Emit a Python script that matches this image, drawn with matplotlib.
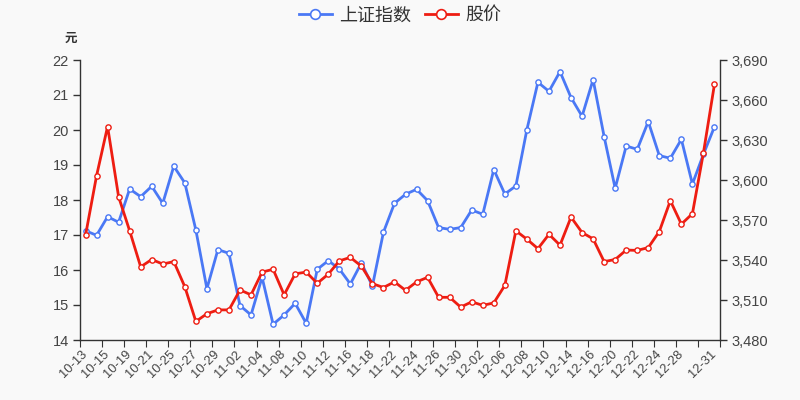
import matplotlib
matplotlib.use("Agg")
import matplotlib.pyplot as plt
from matplotlib.lines import Line2D

plt.rcParams['font.family'] = ['Liberation Sans', 'Noto Sans CJK SC', 'DejaVu Sans']

dates = ["10-13", "10-14", "10-15", "10-18", "10-19", "10-20", "10-21", "10-22", "10-25", "10-26",
         "10-27", "10-28", "10-29", "11-01", "11-02", "11-03", "11-04", "11-05", "11-08", "11-09",
         "11-10", "11-11", "11-12", "11-15", "11-16", "11-17", "11-18", "11-19", "11-22", "11-23",
         "11-24", "11-25", "11-26", "11-29", "11-30", "12-01", "12-02", "12-03", "12-06", "12-07",
         "12-08", "12-09", "12-10", "12-13", "12-14", "12-15", "12-16", "12-17", "12-20", "12-21",
         "12-22", "12-23", "12-24", "12-27", "12-28", "12-29", "12-30", "12-31"]

# 上证指数 (right axis)
index_vals = [3562, 3558.5, 3572.5, 3568.3, 3593.3, 3587.5, 3595.3, 3582.5, 3610.3, 3597.8,
              3562.5, 3518.5, 3547.8, 3545, 3505.8, 3498.8, 3527, 3491.8, 3498.8, 3507.5,
              3492.5, 3533, 3539.5, 3533.3, 3522, 3537.8, 3520.5, 3560.8, 3582.5, 3589.3,
              3593, 3584.5, 3564.3, 3563, 3564.3, 3577.5, 3574.3, 3607.8, 3589.5, 3595.5,
              3637.8, 3673.3, 3666.5, 3681.3, 3661.8, 3647.8, 3675.3, 3632.5, 3593.8, 3625.5,
              3623, 3643.8, 3618.3, 3616.3, 3630.5, 3597, 3619.3, 3640]

# 股价 (left axis, 元)
price_vals = [16.99, 18.69, 20.1, 18.09, 17.12, 16.09, 16.3, 16.17, 16.24, 15.52,
              14.53, 14.75, 14.86, 14.86, 15.43, 15.29, 15.94, 16.02, 15.29, 15.89,
              15.94, 15.62, 15.88, 16.26, 16.36, 16.11, 15.61, 15.5, 15.66, 15.42,
              15.66, 15.79, 15.22, 15.22, 14.94, 15.09, 14.99, 15.06, 15.56, 17.12,
              16.88, 16.61, 17.02, 16.71, 17.51, 17.07, 16.89, 16.24, 16.3, 16.57,
              16.56, 16.64, 17.1, 17.98, 17.31, 17.61, 19.35, 21.31]

blue = '#4a78f5'
red = '#ee1d12'
bg = '#f9f9f9'

fig = plt.figure(figsize=(8, 4), dpi=100, facecolor=bg)
ax = fig.add_axes([0.1, 0.15, 0.8, 0.7], facecolor=bg)
ax2 = ax.twinx()

x = list(range(len(dates)))
ax2.plot(x, index_vals, color=blue, lw=2, marker='o', ms=3.8,
         mfc='white', mec=blue, mew=1, zorder=3)
ax.plot(x, price_vals, color=red, lw=2, marker='o', ms=3.8,
        mfc='white', mec=red, mew=1, zorder=3)
ax.set_zorder(ax2.get_zorder() + 1)
ax.patch.set_visible(False)

ax.set_xlim(-0.5, len(dates) - 0.5)
ax.set_ylim(14, 22)
ax.set_yticks(range(14, 23))
ax2.set_ylim(3480, 3690)
ax2.set_yticks(range(3480, 3691, 30))
ax2.set_yticklabels([f"{v:,}" for v in range(3480, 3691, 30)])

# tick marks at band edges, labels at band centres
ax.set_xticks([i - 0.5 for i in range(0, len(dates) + 1, 2)])
ax.set_xticklabels([])
lab_pos = list(range(0, 56, 2)) + [57]
ax.set_xticks(lab_pos, minor=True)
ax.set_xticklabels([dates[i] for i in lab_pos], minor=True, rotation=45,
                   ha='right', va='center', rotation_mode='anchor',
                   fontsize=9.3, color='#444444')
ax.tick_params(axis='x', which='major', length=5, color='#333333')
ax.tick_params(axis='x', which='minor', length=0, pad=9)

for a in (ax, ax2):
    for s in a.spines.values():
        s.set_visible(False)
    a.tick_params(axis='y', length=5, color='#333333', labelsize=10.5,
                  labelcolor='#444444', width=1, pad=3)
ax.spines['left'].set_visible(True)
ax.spines['bottom'].set_visible(True)
ax2.spines['right'].set_visible(True)
for s in (ax.spines['left'], ax.spines['bottom'], ax2.spines['right']):
    s.set_color('#333333')
    s.set_linewidth(1)

fig.text(0.097, 0.905, '元', fontsize=9, color='#333333', ha='right',
         va='center', family=['Noto Sans CJK SC'], weight='bold')

handles = [Line2D([], [], color=blue, lw=2, marker='o', ms=7, mfc='white', mec=blue, mew=1.2),
           Line2D([], [], color=red, lw=2, marker='o', ms=7, mfc='white', mec=red, mew=1.2)]
fig.legend(handles, ['上证指数', '股价'], loc='center', bbox_to_anchor=(0.5, 0.962),
           ncol=2, frameon=False, handlelength=1.8, columnspacing=0.8, handletextpad=0.4,
           prop={'family': ['Noto Sans CJK SC'], 'size': 13}, labelcolor='#333333')

fig.savefig('out.png', dpi=100, facecolor=bg)
